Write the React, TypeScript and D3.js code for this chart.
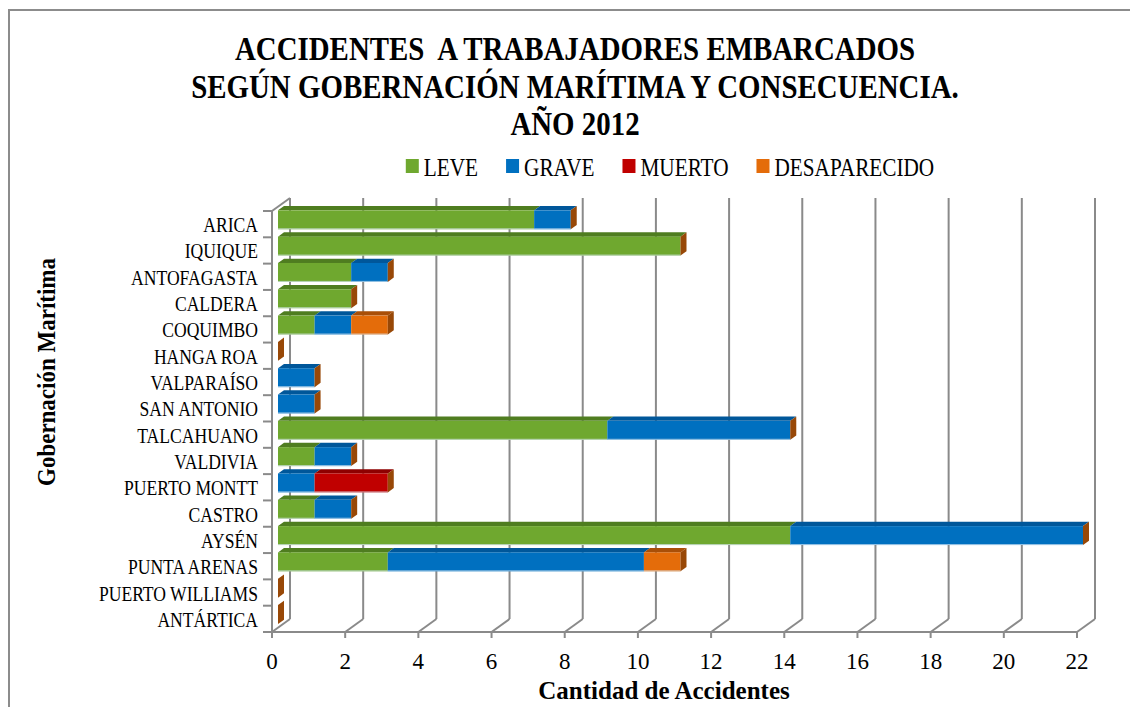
import React, { useRef, useEffect } from "react";
import * as d3 from "d3";

const categories = [
  "ARICA", "IQUIQUE", "ANTOFAGASTA", "CALDERA", "COQUIMBO", "HANGA ROA",
  "VALPARAÍSO", "SAN ANTONIO", "TALCAHUANO", "VALDIVIA", "PUERTO MONTT",
  "CASTRO", "AYSÉN", "PUNTA ARENAS", "PUERTO WILLIAMS", "ANTÁRTICA",
];
const seriesNames = ["LEVE", "GRAVE", "MUERTO", "DESAPARECIDO"];
const leve = [7, 11, 2, 2, 1, 0, 0, 0, 9, 1, 0, 1, 14, 3, 0, 0];
const grave = [1, 0, 1, 0, 1, 0, 1, 1, 5, 1, 1, 1, 8, 7, 0, 0];
const muerto = [0, 0, 0, 0, 0, 0, 0, 0, 0, 0, 2, 0, 0, 0, 0, 0];
const desaparecido = [0, 0, 0, 0, 1, 0, 0, 0, 0, 0, 0, 0, 0, 1, 0, 0];
const xTicks = [0, 2, 4, 6, 8, 10, 12, 14, 16, 18, 20, 22];
const titleLines = [
  "ACCIDENTES  A TRABAJADORES EMBARCADOS",
  "SEGÚN GOBERNACIÓN MARÍTIMA Y CONSECUENCIA.",
  "AÑO 2012",
];

const frontColors = ["#6FA82F", "#0070C0", "#C00000", "#E46C0A"];
const topColors = ["#4F7D20", "#00579A", "#8E0000", "#A94F08"];
const sideColors = ["#3F6A17", "#004A85", "#780000", "#984807"];

const W = 1130;
const H = 707;
const SX = 0.85; // fonts look horizontally squeezed
const DX = 18; // 3d depth
const DY = -13;
const FONT = "'Liberation Serif', 'DejaVu Serif', serif";

function App() {
  const svgRef = useRef<SVGSVGElement>(null);

  useEffect(() => {
    const svg = d3.select(svgRef.current);
    svg.selectAll("*").remove();

    const x = d3.scaleLinear().domain([0, 22]).range([272, 1077]);
    const y = d3.scaleBand<string>()
      .domain(categories)
      .range([211, 632])
      .paddingInner(0.28)
      .paddingOuter(0.14);
    const yTop = 211, yBot = 632;

    // chart border
    svg.append("rect")
      .attr("x", 9).attr("y", 10).attr("width", W + 20).attr("height", H + 20)
      .attr("fill", "white").attr("stroke", "#8c8c8c").attr("stroke-width", 2);

    const sq = (sel: any, px: number, py: number, s = SX) =>
      sel.attr("transform", `translate(${px},${py}) scale(${s},1)`);

    // title
    const titleBase = [60, 98, 135];
    titleLines.forEach((t, i) => {
      sq(svg.append("text"), 575, titleBase[i])
        .attr("text-anchor", "middle")
        .attr("font-family", FONT).attr("font-weight", "bold").attr("font-size", 34)
        .style("white-space", "pre")
        .text(t);
    });

    // legend
    const legend = svg.append("g");
    let lx = 0;
    seriesNames.forEach((name, i) => {
      legend.append("rect").attr("x", lx).attr("y", 159).attr("width", 13).attr("height", 14)
        .attr("fill", frontColors[i]);
      const t = sq(legend.append("text"), lx + 18, 176)
        .attr("font-family", FONT).attr("font-size", 25).text(name);
      const w = (t.node() as SVGTextElement).getComputedTextLength() * SX;
      lx += 18 + w + 28;
    });
    const legW = lx - 28;
    legend.attr("transform", `translate(${670 - legW / 2},0)`);

    const grid = svg.append("g").attr("stroke", "#8a8a8a").attr("stroke-width", 2).attr("fill", "none");
    // back wall gridlines + floor diagonals
    xTicks.forEach(v => {
      grid.append("line").attr("x1", x(v) + DX).attr("x2", x(v) + DX)
        .attr("y1", yTop + DY).attr("y2", yBot + DY);
      grid.append("line").attr("x1", x(v)).attr("x2", x(v) + DX)
        .attr("y1", yBot).attr("y2", yBot + DY);
      grid.append("line").attr("x1", x(v)).attr("x2", x(v))
        .attr("y1", yBot).attr("y2", yBot + 6);
    });
    // left wall
    grid.append("line").attr("x1", x(0)).attr("x2", x(0) + DX)
      .attr("y1", yTop).attr("y2", yTop + DY);
    grid.append("line").attr("x1", x(0)).attr("x2", x(0)).attr("y1", yTop).attr("y2", yBot);
    grid.append("line").attr("x1", x(0)).attr("x2", x(22)).attr("y1", yBot).attr("y2", yBot);
    d3.range(categories.length + 1).forEach(i => {
      const ty = yTop + i * y.step();
      grid.append("line").attr("x1", x(0) - 9).attr("x2", x(0)).attr("y1", ty).attr("y2", ty);
    });

    // bars
    const stack = d3.stack<number>()
      .keys(d3.range(seriesNames.length).map(String))
      .value((i, k) => [leve, grave, muerto, desaparecido][+k][i]);
    const layers = stack(d3.range(categories.length));
    const f1 = 1 / 3, f2 = 2 / 3;
    const bars = svg.append("g");
    categories.forEach((c, ci) => {
      const by = (y(c) as number) + DY * f1;
      const bh = y.bandwidth();
      const ox = DX * f1;
      const tdx = DX * (f2 - f1), tdy = DY * (f2 - f1);
      layers.forEach((layer, si) => {
        const [a, b] = layer[ci];
        if (b <= a) return;
        const x0 = x(a) + ox, x1 = x(b) + ox;
        bars.append("path")
          .attr("d", `M${x0},${by}L${x1},${by}L${x1 + tdx},${by + tdy}L${x0 + tdx},${by + tdy}Z`)
          .attr("fill", topColors[si]);
        bars.append("rect").attr("x", x0).attr("y", by).attr("width", x1 - x0).attr("height", bh)
          .attr("fill", frontColors[si]);
        bars.append("line").attr("x1", x0).attr("x2", x1).attr("y1", by + bh - 0.5).attr("y2", by + bh - 0.5)
          .attr("stroke", "#d8e8f4").attr("stroke-width", 1).attr("opacity", 0.7);
      });
      const last = layers[layers.length - 1][ci][1];
      const ex = x(last) + ox;
      bars.append("path")
        .attr("d", `M${ex},${by}L${ex + tdx},${by + tdy}L${ex + tdx},${by + tdy + bh}L${ex},${by + bh}Z`)
        .attr("fill", sideColors[seriesNames.length - 1]);
    });

    // category labels
    categories.forEach(c => {
      const cy = (y(c) as number) + y.bandwidth() / 2;
      sq(svg.append("text"), 258, cy + 8, 0.88)
        .attr("text-anchor", "end")
        .attr("font-family", FONT).attr("font-size", 20).text(c);
    });

    // x tick labels
    xTicks.forEach(v => {
      svg.append("text").attr("x", x(v)).attr("y", 669)
        .attr("text-anchor", "middle")
        .attr("font-family", FONT).attr("font-size", 23).text(String(v));
    });

    // axis titles
    svg.append("text").attr("x", 664).attr("y", 699)
      .attr("text-anchor", "middle")
      .attr("font-family", FONT).attr("font-weight", "bold").attr("font-size", 25)
      .text("Cantidad de Accidentes");
    svg.append("text")
      .attr("transform", `translate(55,372) rotate(-90) scale(0.92,1)`)
      .attr("text-anchor", "middle")
      .attr("font-family", FONT).attr("font-weight", "bold").attr("font-size", 25)
      .text("Gobernación Marítima");
  }, []);

  return (
    <svg ref={svgRef} width={W} height={H}
      style={{ position: "absolute", left: 0, top: 0, display: "block", background: "white" }} />
  );
}

export default App;
